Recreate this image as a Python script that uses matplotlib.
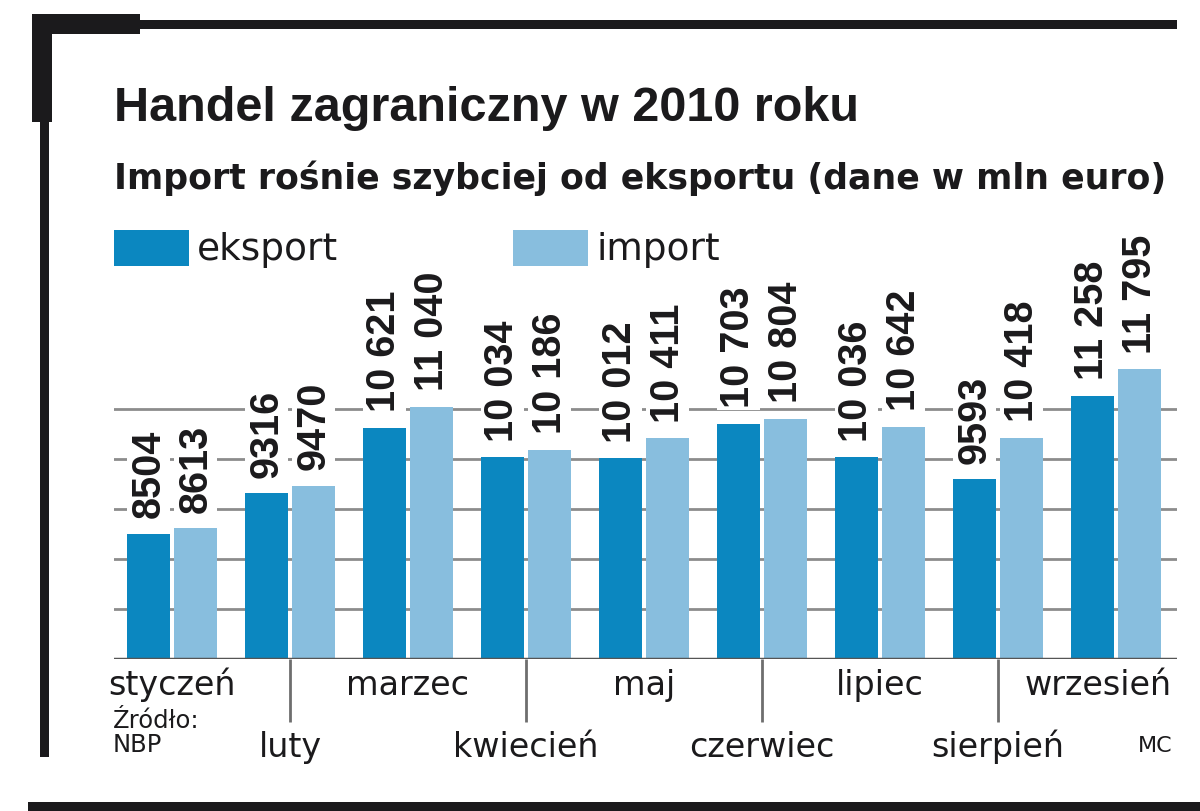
import matplotlib
matplotlib.use("Agg")
import matplotlib.pyplot as plt
from matplotlib.patches import Rectangle

# dane (mln euro)
miesiace = ["styczeń", "luty", "marzec", "kwiecień", "maj",
            "czerwiec", "lipiec", "sierpień", "wrzesień"]
eksport = [8504, 9316, 10621, 10034, 10012, 10703, 10036, 9593, 11258]
importy = [8613, 9470, 11040, 10186, 10411, 10804, 10642, 10418, 11795]
siatka = [7000, 8000, 9000, 10000, 11000]

KOLOR_EKS = "#0b87c0"
KOLOR_IMP = "#88bede"
CZARNY = "#1b1a1c"

W, H = 1200, 812
fig = plt.figure(figsize=(W / 100, H / 100), dpi=100)
fig.patch.set_facecolor("white")


def fx(x):
    return x / W


def fy(y):
    return 1 - y / H


def prost(x0, y0, x1, y1, kolor=CZARNY):
    fig.add_artist(Rectangle((fx(x0), fy(y1)), fx(x1) - fx(x0), fy(y0) - fy(y1),
                             transform=fig.transFigure, facecolor=kolor,
                             edgecolor="none"))


# ramka
prost(32, 15, 52, 123)
prost(32, 15, 140, 35)
prost(140, 21, 1177, 30)
prost(40, 123, 49, 758)
prost(28, 803, 1200, 812)

# tytuly
fig.text(fx(114), fy(121), "Handel zagraniczny w 2010 roku",
         family="Liberation Sans", weight="bold",
         fontsize=35, color=CZARNY, va="baseline")
fig.text(fx(114), fy(189), "Import rośnie szybciej od eksportu (dane w mln euro)",
         family="DejaVu Sans", weight="bold", fontsize=25, color=CZARNY,
         va="baseline")

# legenda
prost(114, 231, 189, 267, KOLOR_EKS)
fig.text(fx(197), fy(260), "eksport", family="DejaVu Sans", fontsize=27,
         color=CZARNY, va="baseline")
prost(513, 231, 588, 267, KOLOR_IMP)
fig.text(fx(596), fy(260), "import", family="DejaVu Sans", fontsize=27,
         color=CZARNY, va="baseline")

# wykres
base_px, top_px = 660, 210
ax = fig.add_axes([fx(114), fy(base_px), fx(1177) - fx(114), (base_px - top_px) / H])
ax.set_xlim(-0.4915, 8.517)
ax.set_ylim(6000, 6000 + (base_px - top_px) * 20)
ax.axis("off")

idx = list(range(len(miesiace)))
off, szer = 0.2, 0.36
for y in siatka:
    ax.axhline(y, color="#8c8c8c", lw=2, zorder=0)
ax.bar([i - off for i in idx], [v - 6000 for v in eksport], bottom=6000,
       width=szer, color=KOLOR_EKS, zorder=2)
ax.bar([i + off for i in idx], [v - 6000 for v in importy], bottom=6000,
       width=szer, color=KOLOR_IMP, zorder=2)
ax.axhline(6000, color="#555555", lw=2.5, zorder=3)


def fmt(v):
    return f"{v:,}".replace(",", " ") if v >= 10000 else str(v)


for seria, dx in ((eksport, -off), (importy, off)):
    for i, v in zip(idx, seria):
        ax.annotate(fmt(v), (i + dx, v), xytext=(0, 12), textcoords="offset points",
                    rotation=90, ha="center", va="bottom", family="Liberation Sans",
                    weight="bold", fontsize=28.5, color=CZARNY, zorder=4,
                    bbox=dict(facecolor="white", edgecolor="none", pad=2))

# podpisy miesiecy
tr = ax.get_xaxis_transform()
h = base_px - top_px
for i, m in zip(idx, miesiace):
    if i % 2 == 0:
        if i == idx[-1]:
            ax.text(8.47, -(695 - base_px) / h, m, transform=tr, ha="right",
                    va="baseline", family="DejaVu Sans", fontsize=24, color=CZARNY)
        else:
            ax.text(i, -(695 - base_px) / h, m, transform=tr, ha="center",
                    va="baseline", family="DejaVu Sans", fontsize=24, color=CZARNY)
    else:
        ax.vlines(i, -(723 - base_px) / h, 0, transform=tr, color="#6e6e6e",
                  lw=2, clip_on=False)
        ax.text(i, -(757 - base_px) / h, m, transform=tr, ha="center",
                va="baseline", family="DejaVu Sans", fontsize=24, color=CZARNY)

fig.text(fx(113), fy(728), "Źródło:", family="DejaVu Sans", fontsize=17.5,
         color=CZARNY, va="baseline")
fig.text(fx(113), fy(752), "NBP", family="DejaVu Sans", fontsize=17.5,
         color=CZARNY, va="baseline")
fig.text(fx(1172), fy(752), "MC", family="DejaVu Sans", fontsize=16,
         color=CZARNY, va="baseline", ha="right")

fig.savefig("out.png", dpi=100)
